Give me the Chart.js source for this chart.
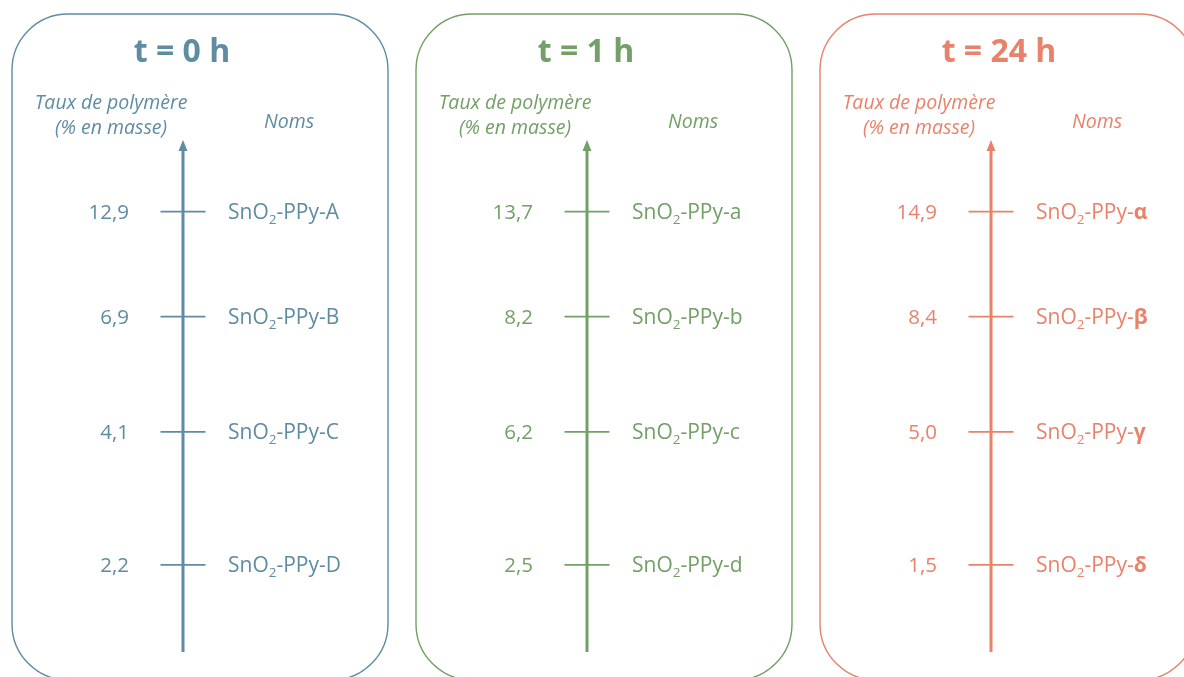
<!DOCTYPE html>
<html>
<head>
<meta charset="utf-8">
<script src="https://cdn.jsdelivr.net/npm/chart.js@4.4.0/dist/chart.umd.min.js"></script>
<style>
  html, body { margin: 0; padding: 0; background: #ffffff; }
  #wrap { width: 1184px; height: 677px; position: relative; }
</style>
</head>
<body>
<div id="wrap"><canvas id="c" width="1184" height="677"></canvas></div>
<script>
// ---- data ----
const panelTitles = ['t = 0 h', 't = 1 h', 't = 24 h'];
const massValues0h = [12.9, 6.9, 4.1, 2.2];
const massValues1h = [13.7, 8.2, 6.2, 2.5];
const massValues24h = [14.9, 8.4, 5.0, 1.5];
const nameSuffixes0h = ['A', 'B', 'C', 'D'];
const nameSuffixes1h = ['a', 'b', 'c', 'd'];
const nameSuffixes24h = ['α', 'β', 'γ', 'δ'];
const headerRate = ['Taux de polymère', '(% en masse)'];
const headerNames = 'Noms';
// position of each sample row along the (unitless) vertical axis, 0 = bottom, 10 = arrow tip
const rowLevels = [8.6, 6.55, 4.3, 1.7];

const massValues = [massValues0h, massValues1h, massValues24h];
const nameSuffixes = [nameSuffixes0h, nameSuffixes1h, nameSuffixes24h];
const panelColors = ['#5E8CA3', '#72A066', '#E8826B'];
const FONT = '"Open Sans", "Noto Sans", sans-serif';

const datasets = [];
panelTitles.forEach((t, p) => {
  datasets.push({
    type: 'line',
    data: [{x: p, y: 0}, {x: p, y: 9.8}],
    borderColor: panelColors[p],
    borderWidth: 3,
    pointRadius: 0,
    clip: false
  });
  datasets.push({
    type: 'scatter',
    data: rowLevels.map(y => ({x: p, y: y})),
    pointStyle: 'line',
    pointRadius: 22.5,
    pointHoverRadius: 22.5,
    borderColor: panelColors[p],
    backgroundColor: panelColors[p],
    pointBorderWidth: 1.8,
    clip: false
  });
});

function fmt(v) { return v.toFixed(1).replace('.', ','); }

function roundRect(ctx, x, y, w, h, r) {
  ctx.beginPath();
  ctx.moveTo(x + r, y);
  ctx.lineTo(x + w - r, y);
  ctx.arcTo(x + w, y, x + w, y + r, r);
  ctx.lineTo(x + w, y + h - r);
  ctx.arcTo(x + w, y + h, x + w - r, y + h, r);
  ctx.lineTo(x + r, y + h);
  ctx.arcTo(x, y + h, x, y + h - r, r);
  ctx.lineTo(x, y + r);
  ctx.arcTo(x, y, x + r, y, r);
  ctx.closePath();
}

const diagramPlugin = {
  id: 'diagram',
  beforeDraw(chart) {
    const ctx = chart.ctx;
    ctx.save();
    ctx.fillStyle = '#ffffff';
    ctx.fillRect(0, 0, chart.width, chart.height);
    const xs = chart.scales.x;
    panelTitles.forEach((t, p) => {
      const ax = xs.getPixelForValue(p);
      ctx.strokeStyle = panelColors[p];
      ctx.lineWidth = 1.4;
      roundRect(ctx, ax - 171, 14, 376, 666, 56);
      ctx.stroke();
    });
    ctx.restore();
  },
  afterDatasetsDraw(chart) {
    const ctx = chart.ctx;
    const xs = chart.scales.x, ys = chart.scales.y;
    ctx.save();
    panelTitles.forEach((title, p) => {
      const ax = xs.getPixelForValue(p);
      const col = panelColors[p];
      ctx.fillStyle = col;
      // arrow head
      const tip = ys.getPixelForValue(10);
      ctx.beginPath();
      ctx.moveTo(ax, tip);
      ctx.lineTo(ax - 4.5, tip + 11);
      ctx.lineTo(ax + 4.5, tip + 11);
      ctx.closePath();
      ctx.fill();
      // title
      ctx.font = 'bold 32px ' + FONT;
      ctx.textAlign = 'center';
      ctx.textBaseline = 'alphabetic';
      ctx.fillText(title, ax + (p === 2 ? 8 : -1), 62);
      // headers
      ctx.font = 'italic 19.5px ' + FONT;
      ctx.fillText(headerRate[0], ax - 72, 109);
      ctx.fillText(headerRate[1], ax - 72, 134);
      ctx.fillText(headerNames, ax + 106, 128);
      // rows
      rowLevels.forEach((lv, r) => {
        const y = ys.getPixelForValue(lv);
        ctx.font = '20.5px ' + FONT;
        ctx.textAlign = 'right';
        ctx.fillText(fmt(massValues[p][r]), ax - 54, y + 7);
        ctx.textAlign = 'left';
        let x = ax + 45;
        const parts = [
          {t: 'SnO', f: '21px ' + FONT, dy: 0},
          {t: '2', f: '13.5px ' + FONT, dy: 5},
          {t: '-PPy-', f: '21px ' + FONT, dy: 0},
          {t: nameSuffixes[p][r], f: (p === 2 ? 'bold ' : '') + '21px ' + FONT, dy: 0}
        ];
        parts.forEach(pt => {
          ctx.font = pt.f;
          ctx.fillText(pt.t, x, y + 7 + pt.dy);
          x += ctx.measureText(pt.t).width;
        });
      });
    });
    ctx.restore();
  }
};

new Chart(document.getElementById('c'), {
  type: 'scatter',
  data: { datasets: datasets },
  options: {
    responsive: false,
    animation: false,
    events: [],
    layout: { padding: { left: 183, right: 193, top: 140, bottom: 25 } },
    scales: {
      x: { type: 'linear', min: 0, max: 2, display: false },
      y: { type: 'linear', min: 0, max: 10, display: false }
    },
    plugins: { legend: { display: false }, tooltip: { enabled: false } }
  },
  plugins: [diagramPlugin]
});
</script>
</body>
</html>
